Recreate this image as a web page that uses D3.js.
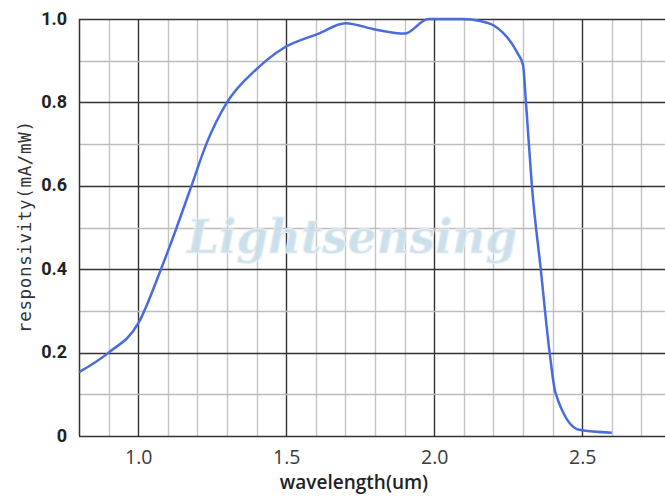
<!DOCTYPE html>
<html><head><meta charset="utf-8">
<script src="https://cdn.jsdelivr.net/npm/d3@7/dist/d3.min.js"></script>
<style>body{margin:0;background:#fff}svg{display:block}</style>
</head><body>
<svg id="c" width="665" height="497"></svg>
<script>
const wavelength = [0.8, 0.9, 1.0, 1.077, 1.13, 1.18, 1.23, 1.30, 1.40, 1.49, 1.61, 1.7, 1.8, 1.9, 1.98, 2.1, 2.155, 2.2, 2.28, 2.30, 2.31, 2.33, 2.36, 2.39, 2.41, 2.49, 2.6];
const responsivity = [0.153, 0.2, 0.27, 0.4, 0.5, 0.6, 0.7, 0.8, 0.88, 0.93, 0.965, 0.99, 0.975, 0.965, 1.0, 1.0, 0.995, 0.985, 0.92, 0.89, 0.8, 0.6, 0.4, 0.2, 0.103, 0.015, 0.008];
const xTicks = [1.0, 1.5, 2.0, 2.5];
const yTicks = [0, 0.2, 0.4, 0.6, 0.8, 1.0];
const yTickLabels = ["0", "0.2", "0.4", "0.6", "0.8", "1.0"];

const svg = d3.select("#c");
const L = 79, R = 665, T = 19, B = 436;
const x = d3.scaleLinear().domain([0.8, 0.8 + (R - L) / 296]).range([L, R]);
const y = d3.scaleLinear().domain([0, 1]).range([B, T]);

const g = svg.append("g");
const xMinor = d3.range(9, 28).map(d => d / 10);
g.selectAll(".vx").data(xMinor).enter().append("line")
  .attr("x1", d => Math.round(x(d)) + 0.5).attr("x2", d => Math.round(x(d)) + 0.5)
  .attr("y1", T).attr("y2", B)
  .attr("stroke", d => (Math.round(d * 10) % 5 === 0) ? "#333" : "#c4c4c4")
  .attr("stroke-width", 1.4);
const yMinor = d3.range(1, 11).map(d => d / 10);
g.selectAll(".hy").data(yMinor).enter().append("line")
  .attr("y1", d => Math.round(y(d)) + 0.5).attr("y2", d => Math.round(y(d)) + 0.5)
  .attr("x1", L).attr("x2", R)
  .attr("stroke", d => (Math.round(d * 10) % 2 === 0) ? "#333" : "#bcbcbc")
  .attr("stroke-width", 1.4);
g.append("line").attr("x1", L).attr("x2", R).attr("y1", B + 0.5).attr("y2", B + 0.5).attr("stroke", "#333").attr("stroke-width", 1.5);
g.append("line").attr("x1", L + 0.5).attr("x2", L + 0.5).attr("y1", T).attr("y2", B).attr("stroke", "#333").attr("stroke-width", 1.5);

// watermark
svg.append("text").attr("x", 352).attr("y", 253).attr("text-anchor", "middle")
  .attr("font-family", "DejaVu Serif, serif").attr("font-style", "italic").attr("font-weight", "bold")
  .attr("font-size", 46).attr("fill", "#c6dde9").attr("stroke", "#e8f1f6").attr("stroke-width", 1)
  .attr("textLength", 330).attr("lengthAdjust", "spacingAndGlyphs")
  .attr("opacity", 0.9).text("Lightsensing");

// curve
const line = d3.line().x((d, i) => x(wavelength[i])).y((d, i) => y(responsivity[i])).curve(d3.curveMonotoneX);
svg.append("path").datum(responsivity).attr("d", line).attr("fill", "none")
  .attr("stroke", "#4a6be0").attr("stroke-width", 2.5).attr("stroke-linejoin", "round");

// y tick labels
svg.selectAll(".yl").data(yTicks).enter().append("text")
  .attr("x", 67).attr("y", d => y(d) + 5.5).attr("text-anchor", "end")
  .attr("font-family", "Roboto, sans-serif").attr("font-weight", 700).attr("font-size", 18).attr("fill", "#222")
  .text((d, i) => yTickLabels[i]);
// x tick labels
svg.selectAll(".xl").data(xTicks).enter().append("text")
  .attr("x", d => x(d) + 0.5).attr("y", 464).attr("text-anchor", "middle")
  .attr("font-family", "Open Sans, sans-serif").attr("font-size", 19.5).attr("fill", "#3a3a3a")
  .text(d => d.toFixed(1));
// x label
svg.append("text").attr("x", 354).attr("y", 489).attr("text-anchor", "middle")
  .attr("font-family", "Open Sans, sans-serif").attr("font-weight", 600).attr("font-size", 19).attr("fill", "#222")
  .text("wavelength(um)");
// y label
svg.append("text").attr("transform", "translate(31,227) rotate(-90)").attr("text-anchor", "middle")
  .attr("font-family", "DejaVu Sans Mono, monospace").attr("font-size", 17.5).attr("fill", "#333")
  .attr("textLength", 212).attr("lengthAdjust", "spacing")
  .text("responsivity(mA/mW)");
</script>
</body></html>
